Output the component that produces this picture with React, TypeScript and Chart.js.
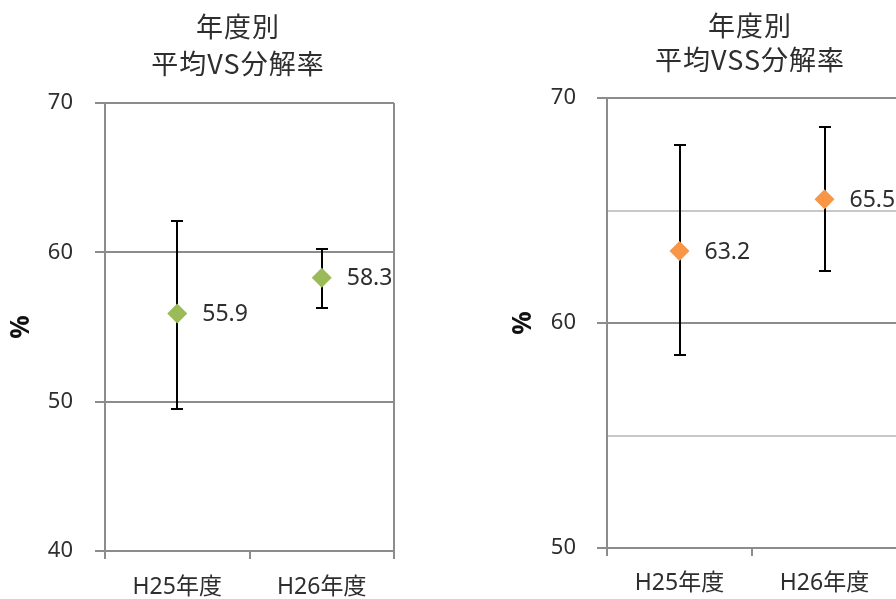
import { useEffect, useRef } from "react";
import { Chart, registerables } from "chart.js";

Chart.register(...registerables);

// Fiscal-year categories and the two decomposition-rate series (mean with range).
const categories = ["H25年度", "H26年度"];

const vsTitle = ["年度別", "平均VS分解率"];
const vsMean = [55.9, 58.3];
const vsHigh = [62.1, 60.2];
const vsLow = [49.5, 56.3];

const vssTitle = ["年度別", "平均VSS分解率"];
const vssMean = [63.2, 65.5];
const vssHigh = [67.9, 68.7];
const vssLow = [58.6, 62.3];

const axisTitle = "%";

const LATIN = '"Noto Sans", "Noto Sans CJK JP", sans-serif';
const CJK = '"Noto Sans CJK JP", "Noto Sans", sans-serif';
const GRID = "#8c8c8c";
const MINOR = "#c8c8c8";
const TEXT = "#2e2e2e";

type PanelProps = {
  title: string[];
  mean: number[];
  high: number[];
  low: number[];
  color: string;
  yMin: number;
  yMax: number;
  yStep: number;
  labelStep: number;
  left: number;
  width: number;
  area: { left: number; right: number; top: number; bottom: number };
  titleX: number;
  titleY: [number, number];
  yTitlePad: number;
  yTickPad: number;
  xTickPad: number;
  rightBorder: boolean;
};

const HEIGHT = 599;

function Panel(p: PanelProps) {
  const ref = useRef<HTMLCanvasElement | null>(null);

  useEffect(() => {
    const canvas = ref.current;
    if (!canvas) return;

    const overlay = {
      id: "rangeOverlay",
      beforeDatasetsDraw(chart: any) {
        const { ctx } = chart;
        const meta = chart.getDatasetMeta(0);
        const y = chart.scales.y;
        ctx.save();
        ctx.strokeStyle = "#000000";
        ctx.lineWidth = 2;
        meta.data.forEach((pt: any, i: number) => {
          const x = Math.round(pt.x);
          const yh = Math.round(y.getPixelForValue(p.high[i]));
          const yl = Math.round(y.getPixelForValue(p.low[i]));
          ctx.beginPath();
          ctx.moveTo(x, yh);
          ctx.lineTo(x, yl);
          ctx.moveTo(x - 6, yh);
          ctx.lineTo(x + 6, yh);
          ctx.moveTo(x - 6, yl);
          ctx.lineTo(x + 6, yl);
          ctx.stroke();
        });
        ctx.restore();
      },
      afterDatasetsDraw(chart: any) {
        const { ctx } = chart;
        const meta = chart.getDatasetMeta(0);
        ctx.save();
        ctx.font = `23px ${LATIN}`;
        ctx.fillStyle = TEXT;
        ctx.textAlign = "left";
        ctx.textBaseline = "middle";
        meta.data.forEach((pt: any, i: number) => {
          ctx.fillText(p.mean[i].toFixed(1), pt.x + 25, pt.y + 1);
        });
        ctx.restore();
      },
      afterDraw(chart: any) {
        const { ctx, chartArea } = chart;
        ctx.save();
        ctx.font = `27px ${CJK}`;
        ctx.fillStyle = TEXT;
        ctx.textAlign = "center";
        ctx.textBaseline = "middle";
        (ctx as any).letterSpacing = "1px";
        ctx.fillText(p.title[0], p.titleX, p.titleY[0]);
        ctx.fillText(p.title[1], p.titleX, p.titleY[1]);
        (ctx as any).letterSpacing = "0px";
        if (p.rightBorder) {
          ctx.strokeStyle = GRID;
          ctx.lineWidth = 2;
          ctx.beginPath();
          ctx.moveTo(chartArea.right, chartArea.top);
          ctx.lineTo(chartArea.right, chartArea.bottom);
          ctx.stroke();
        }
        ctx.restore();
      },
    };

    const chart = new Chart(canvas, {
      type: "line",
      data: {
        labels: categories,
        datasets: [
          {
            data: p.mean,
            showLine: false,
            pointStyle: "rectRot",
            pointRadius: 10,
            pointHoverRadius: 10,
            pointBackgroundColor: p.color,
            pointBorderColor: p.color,
            pointBorderWidth: 0,
          },
        ],
      },
      options: {
        responsive: false,
        animation: false,
        devicePixelRatio: 1,
        events: [],
        layout: {
          padding: {
            left: 0,
            top: p.area.top,
            right: p.width - p.area.right,
            bottom: 0,
          },
        },
        plugins: {
          legend: { display: false },
          title: { display: false },
          tooltip: { enabled: false },
        },
        scales: {
          x: {
            type: "category",
            offset: true,
            afterFit(scale: any) {
              scale.height = HEIGHT - p.area.bottom;
            },
            grid: {
              offset: true,
              drawOnChartArea: false,
              drawTicks: true,
              tickLength: 8,
              color: GRID,
              lineWidth: 2,
            },
            border: { color: GRID, width: 2 },
            ticks: {
              color: TEXT,
              padding: p.xTickPad,
              font: { family: LATIN, size: 23 },
              maxRotation: 0,
            },
          },
          y: {
            min: p.yMin,
            max: p.yMax,
            afterFit(scale: any) {
              scale.width = p.area.left;
            },
            ticks: {
              stepSize: p.yStep,
              color: TEXT,
              padding: p.yTickPad,
              font: { family: LATIN, size: 22 },
              callback: (v: any) =>
                Math.abs(Number(v) % p.labelStep) < 1e-9 ? String(v) : "",
            },
            grid: {
              tickLength: 10,
              lineWidth: 2,
              color: (c: any) =>
                Math.abs(c.tick.value % p.labelStep) < 1e-9 ? GRID : MINOR,
              tickColor: (c: any) =>
                Math.abs(c.tick.value % p.labelStep) < 1e-9
                  ? GRID
                  : "rgba(0,0,0,0)",
            },
            border: { color: GRID, width: 2 },
            title: {
              display: true,
              text: axisTitle,
              color: "#111111",
              font: { family: LATIN, size: 26, weight: "bold" },
              padding: { top: p.yTitlePad, bottom: 0 },
            },
          },
        },
      },
      plugins: [overlay],
    } as any);

    return () => chart.destroy();
  }, []);

  return (
    <canvas
      ref={ref}
      width={p.width}
      height={HEIGHT}
      style={{
        position: "absolute",
        left: p.left,
        top: 0,
        width: p.width,
        height: HEIGHT,
      }}
    />
  );
}

export default function App() {
  return (
    <div
      style={{
        position: "absolute",
        left: 0,
        top: 0,
        width: 896,
        height: HEIGHT,
        overflow: "hidden",
        background: "#ffffff",
      }}
    >
      <Panel
        title={vsTitle}
        mean={vsMean}
        high={vsHigh}
        low={vsLow}
        color="#9bbb59"
        yMin={40}
        yMax={70}
        yStep={10}
        labelStep={10}
        left={0}
        width={476}
        area={{ left: 105, right: 394, top: 103, bottom: 551 }}
        titleX={238}
        titleY={[27, 64]}
        yTitlePad={6}
        yTickPad={22}
        xTickPad={15}
        rightBorder={true}
      />
      <Panel
        title={vssTitle}
        mean={vssMean}
        high={vssHigh}
        low={vssLow}
        color="#f79646"
        yMin={50}
        yMax={70}
        yStep={5}
        labelStep={10}
        left={480}
        width={520}
        area={{ left: 127, right: 417, top: 98, bottom: 548 }}
        titleX={270}
        titleY={[26, 60]}
        yTitlePad={28}
        yTickPad={21}
        xTickPad={14}
        rightBorder={true}
      />
    </div>
  );
}
